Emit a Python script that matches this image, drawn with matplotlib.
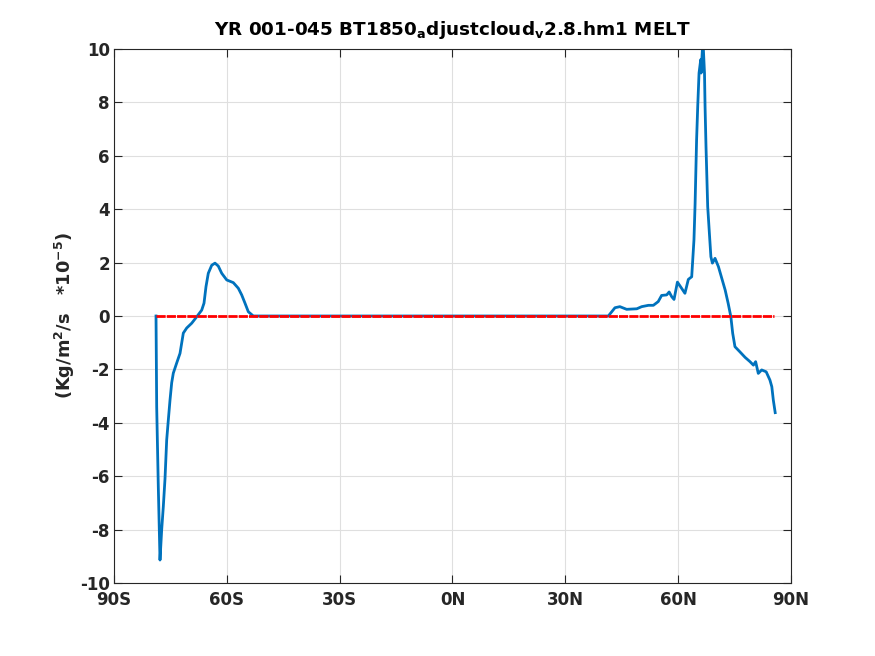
import matplotlib
matplotlib.use("Agg")
import matplotlib.pyplot as plt
import numpy as np

OUTPUT_PATH = "out.png"

# blue curve (zonal mean melt)
lat_south = [-78.83, -78.65, -78.22, -77.77, -77.32, -76.89, -76.44, -75.99, -75.56,
             -75.11, -74.66, -74.23, -73.33, -72.45, -71.57, -70.67, -69.34, -68.01,
             -66.68, -66.07, -65.54, -64.93, -64.02, -63.15, -62.27, -61.36, -60.03,
             -58.28, -56.95, -56.05, -55.17, -54.29, -52.96]
val_south = [0.0, -3.4, -6.4, -9.14, -8.0, -7.14, -6.1, -4.64, -3.9,
             -3.15, -2.5, -2.14, -1.76, -1.4, -0.64, -0.45, -0.27, -0.03,
             0.22, 0.48, 1.1, 1.6, 1.9, 1.98, 1.87, 1.6, 1.35,
             1.25, 1.04, 0.79, 0.48, 0.16, 0.0]

lat_mid = [0.0]
val_mid = [0.0]

lat_north = [41.43, 43.2, 44.5, 46.3, 49.0, 50.3, 52.1, 53.4, 54.7, 55.6, 56.95,
             57.6, 58.3, 58.9, 59.8, 60.9, 61.8, 62.7, 63.6, 64.2, 64.5, 64.9,
             65.2, 65.55, 66.0, 66.1, 66.45, 66.7, 67.0, 67.15, 67.4, 67.85, 68.3,
             68.7, 69.1, 69.8, 70.7, 71.6, 72.5, 73.3, 74.0, 74.5, 75.1, 76.4,
             77.8, 79.1, 80.0, 80.6, 81.3, 82.2, 83.4, 84.4, 84.9, 85.3, 85.8]
val_north = [0.0, 0.31, 0.35, 0.25, 0.27, 0.35, 0.4, 0.4, 0.54, 0.77, 0.79,
             0.9, 0.72, 0.62, 1.27, 1.04, 0.85, 1.37, 1.47, 2.85, 4.2, 6.6,
             7.85, 9.1, 9.6, 9.1, 10.0, 10.0, 9.1, 7.85, 6.35, 4.1, 3.1,
             2.22, 1.98, 2.16, 1.85, 1.41, 0.97, 0.47, -0.02, -0.65, -1.15, -1.34,
             -1.55, -1.71, -1.84, -1.71, -2.15, -2.02, -2.09, -2.4, -2.65, -3.15, -3.62]

# red dashed zero reference
zero_lat = [-78.83, 85.5]
zero_val = [0.0, 0.0]

x_ticks = [-90, -60, -30, 0, 30, 60, 90]
x_tick_labels = ["90S", "60S", "30S", "0N", "30N", "60N", "90N"]
y_ticks = list(range(-10, 11, 2))

TITLE = r"YR 001-045 BT1850$_{a}$djustcloud$_{v}$2.8.hm1 MELT"
YLABEL = r"(Kg/m$^{2}$/s   *10$^{-5}$)"

AX_COLOR = "#262626"

plt.rcParams["font.family"] = "DejaVu Sans"
plt.rcParams["font.weight"] = "bold"
plt.rcParams["axes.unicode_minus"] = False
plt.rcParams["mathtext.fontset"] = "custom"
plt.rcParams["mathtext.rm"] = "DejaVu Sans:bold"
plt.rcParams["mathtext.it"] = "DejaVu Sans:bold"
plt.rcParams["mathtext.default"] = "rm"


def main() -> None:
    fig = plt.figure(figsize=(8.75, 6.56), dpi=100)
    fig.patch.set_facecolor("white")
    ax = fig.add_axes([114 / 875, 1 - 583 / 656, 677 / 875, 534 / 656])

    lat = np.array(lat_south + lat_mid + lat_north)
    val = np.array(val_south + val_mid + val_north)

    ax.plot(zero_lat, zero_val, color="#ff0000", linewidth=2.0,
            dashes=(3.3, 0.4), zorder=3)
    ax.plot(lat, val, color="#0072bd", linewidth=2.0, zorder=2)

    ax.set_xlim(-90, 90)
    ax.set_ylim(-10, 10)
    ax.set_xticks(x_ticks)
    ax.set_xticklabels(x_tick_labels)
    ax.set_yticks(y_ticks)

    ax.grid(True, color="#dfdfdf", linewidth=0.8)
    ax.set_axisbelow(True)
    ax.tick_params(direction="in", length=6, width=0.8, top=True, right=True,
                   colors=AX_COLOR, labelsize=12)
    ax.tick_params(axis="x", pad=6)
    ax.tick_params(axis="y", pad=3)
    for label in ax.get_xticklabels() + ax.get_yticklabels():
        label.set_fontweight("bold")
    for spine in ax.spines.values():
        spine.set_color(AX_COLOR)
        spine.set_linewidth(0.8)

    ax.set_title(TITLE, fontsize=13.2, fontweight="bold", color="black", pad=10)
    ax.set_ylabel(YLABEL, fontsize=12.8, fontweight="bold", color=AX_COLOR, labelpad=2)

    fig.savefig(OUTPUT_PATH, dpi=100)
    plt.close(fig)


if __name__ == "__main__":
    main()
